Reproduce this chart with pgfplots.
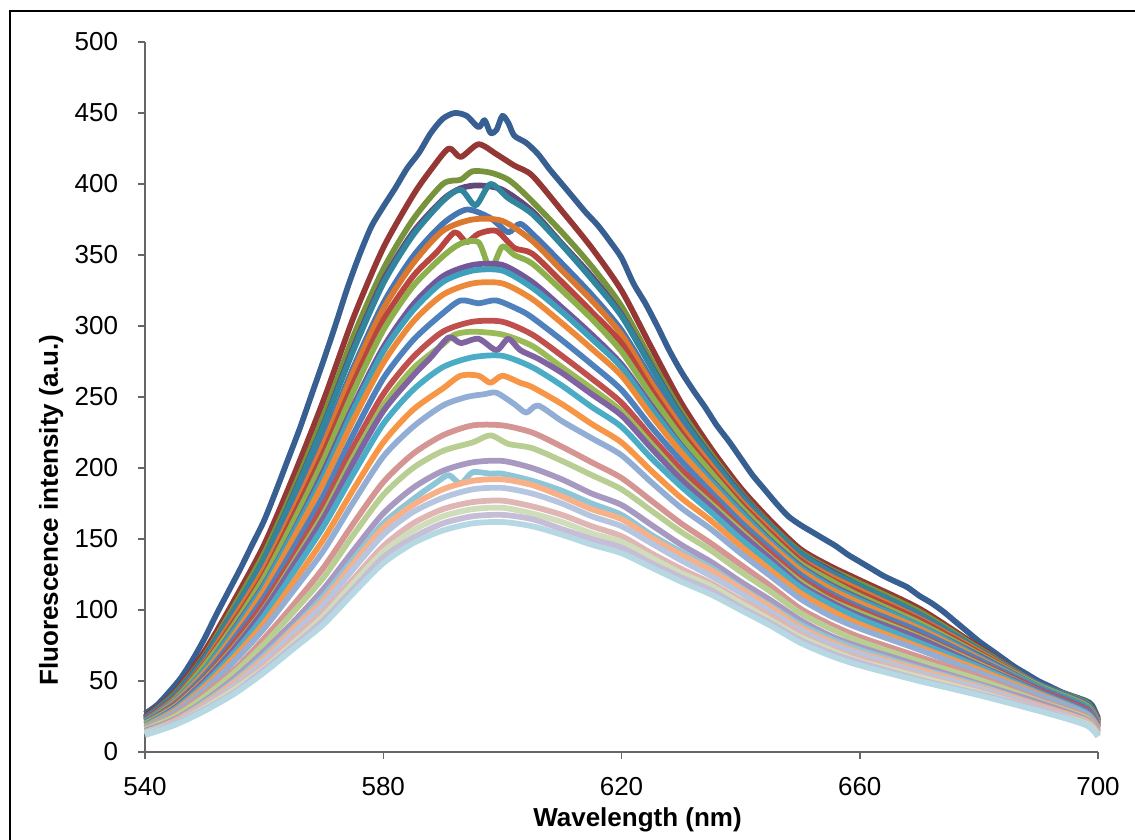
\documentclass[border=0pt]{standalone}
\usepackage{pgfplots}
\pgfplotsset{compat=1.18}
\usepackage{fontspec}
\setmainfont{Liberation Sans}
\definecolor{c1}{HTML}{375F91}
\definecolor{c2}{HTML}{953735}
\definecolor{c3}{HTML}{77933C}
\definecolor{c4}{HTML}{604A7B}
\definecolor{c5}{HTML}{31859C}
\definecolor{c6}{HTML}{4677B4}
\definecolor{c7}{HTML}{D9782E}
\definecolor{c8}{HTML}{B94541}
\definecolor{c9}{HTML}{8CB04C}
\definecolor{c10}{HTML}{72589A}
\definecolor{c11}{HTML}{3FA0BC}
\definecolor{c12}{HTML}{EC8A39}
\definecolor{c13}{HTML}{4F81BD}
\definecolor{c14}{HTML}{C0504D}
\definecolor{c15}{HTML}{9BBB59}
\definecolor{c16}{HTML}{8064A2}
\definecolor{c17}{HTML}{4BACC6}
\definecolor{c18}{HTML}{F79646}
\definecolor{c19}{HTML}{93AED4}
\definecolor{c20}{HTML}{D49593}
\definecolor{c21}{HTML}{B8CE92}
\definecolor{c22}{HTML}{A899C0}
\definecolor{c23}{HTML}{8EC6D8}
\definecolor{c24}{HTML}{F8B088}
\definecolor{c25}{HTML}{B6C6E0}
\definecolor{c26}{HTML}{E0B6B5}
\definecolor{c27}{HTML}{D0DDBA}
\definecolor{c28}{HTML}{C6BDD6}
\definecolor{c29}{HTML}{B5D8E2}
\begin{document}
\fontsize{10.4}{12.5}\selectfont
\begin{tikzpicture}
\useasboundingbox (0pt,0pt) rectangle (454pt,335.6pt);
\draw[line width=0.8pt] (3.8pt,-2pt) -- (3.8pt,331.2pt) -- (460pt,331.2pt);
\begin{axis}[
  at={(58pt,34.8pt)}, anchor=south west, scale only axis,
  width=381.2pt, height=284pt,
  xmin=540, xmax=700, ymin=0, ymax=500,
  xtick={540,580,620,660,700}, ytick={0,50,...,500},
  axis x line*=bottom, axis y line*=left,
  axis line style={black!60, line width=0.6pt, -},
  tick align=outside, major tick length=2.8pt,
  tick style={black!60, line width=0.6pt},
  xticklabel style={font=\fontsize{10.4}{12}\selectfont, anchor=north, inner sep=0pt, yshift=-7.2pt},
  yticklabel style={font=\fontsize{10.4}{12}\selectfont, anchor=east, inner sep=0pt, xshift=-7.8pt},
  /pgf/number format/assume math mode=true,
  clip=false,
  every axis plot/.append style={line width=2.3pt, line join=round, no markers, smooth, tension=0.45},
]
\addplot[c1] coordinates {(540,27)(542,33)(544,42)(546,52)(548,65)(550,80)(552,97)(554,113)(556,129)(558,146)(560,163)(562,184)(564,206)(566,228)(568,252)(570,276)(572,301)(574,327)(576,350)(578,370)(580,384)(582,397)(584,411)(586,422)(588,436)(590,446)(592,450)(594,448)(596,440)(597,445)(598,436)(599,438)(600,448)(601,443)(602,434)(604,429)(606,421)(608,410)(610,400)(612,390)(614,380)(616,371)(618,360)(620,348)(622,330)(624,316)(626,300)(628,283)(630,268)(632,255)(634,243)(636,230)(638,219)(640,207)(642,195)(644,185)(646,175)(648,166)(650,160)(652,155)(654,150)(656,145)(658,139)(660,134)(662,129)(664,124)(666,120)(668,116)(670,110)(672,105)(674,99)(676,92)(678,85)(680,78)(682,72)(684,66)(686,60)(688,55)(690,50)(692,46)(694,42)(696,39)(698,36)(699,33)(700,24)};
\addplot[c2] coordinates {(540,25)(545,42)(550,71)(555,107)(560,146)(565,195)(570,248)(575,306)(580,355)(585,392)(588,410)(591,425)(593,419)(596,428)(599,421)(602,413)(605,406)(610,381)(615,355)(620,325)(625,285)(630,246)(635,214)(640,186)(645,163)(650,143)(655,131)(660,121)(670,101)(680,74)(690,48)(698,35)(700,23)};
\addplot[c3] coordinates {(540,24)(545,41)(550,68)(555,103)(560,140)(565,186)(570,237)(575,293)(580,340)(585,375)(590,400)(593,403)(595,409)(598,408)(601,403)(604,392)(610,366)(615,342)(620,314)(625,276)(630,240)(635,210)(640,183)(645,160)(650,141)(655,129)(660,119)(670,99)(680,73)(690,48)(698,35)(700,22)};
\addplot[c4] coordinates {(540,24)(545,40)(550,67)(555,100)(560,136)(565,182)(570,231)(575,285)(580,332)(585,366)(590,389)(593,397)(596,399)(600,396)(605,381)(610,358)(615,335)(620,308)(625,272)(630,237)(635,208)(640,182)(645,159)(650,140)(655,128)(660,117)(670,97)(680,72)(690,48)(698,34)(700,22)};
\addplot[c5] coordinates {(540,24)(545,40)(550,66)(555,100)(560,136)(565,181)(570,230)(575,283)(580,330)(585,364)(590,388)(593,396)(595.5,385)(598,400)(601,390)(605,379)(610,357)(615,333)(620,307)(625,271)(630,236)(635,207)(640,181)(645,159)(650,140)(655,127)(660,117)(670,97)(680,72)(690,48)(698,34)(700,22)};
\addplot[c6] coordinates {(540,23)(545,39)(550,64)(555,96)(560,130)(565,173)(570,220)(575,271)(580,316)(585,349)(590,372)(594,382)(598,376)(601,366)(603,372)(606,361)(610,344)(615,322)(620,297)(625,263)(630,231)(635,203)(640,178)(645,156)(650,137)(655,125)(660,114)(670,95)(680,71)(690,48)(698,34)(700,22)};
\addplot[c7] coordinates {(540,23)(545,38)(550,63)(555,95)(560,129)(565,171)(570,217)(575,268)(580,312)(585,344)(590,367)(595,375)(600,374)(605,360)(610,339)(615,318)(620,294)(625,260)(630,229)(635,202)(640,177)(645,156)(650,136)(655,124)(660,114)(670,94)(680,71)(690,47)(698,33)(700,21)};
\addplot[c8] coordinates {(540,23)(545,38)(550,62)(555,92)(560,125)(565,167)(570,211)(575,260)(580,304)(585,335)(589,352)(592,366)(594,359)(596,365)(599,367)(602,355)(605,351)(610,331)(615,310)(620,288)(625,255)(630,225)(635,199)(640,175)(645,154)(650,135)(655,122)(660,112)(670,93)(680,70)(690,47)(698,33)(700,21)};
\addplot[c9] coordinates {(540,22)(545,37)(550,61)(555,90)(560,123)(565,163)(570,206)(575,254)(580,297)(585,328)(590,349)(593,358)(596,359)(598,340)(600,356)(602,350)(605,344)(610,325)(615,305)(620,282)(625,251)(630,222)(635,197)(640,173)(645,152)(650,133)(655,121)(660,110)(670,91)(680,69)(690,47)(698,33)(700,21)};
\addplot[c10] coordinates {(540,22)(545,36)(550,58)(555,87)(560,118)(565,156)(570,198)(575,244)(580,285)(585,315)(590,335)(595,343)(600,343)(605,331)(610,313)(615,294)(620,273)(625,244)(630,216)(635,192)(640,170)(645,149)(650,131)(655,118)(660,108)(670,89)(680,68)(690,46)(698,32)(700,20)};
\addplot[c11] coordinates {(540,22)(545,36)(550,58)(555,86)(560,117)(565,155)(570,195)(575,241)(580,282)(585,311)(590,331)(595,339)(600,339)(605,327)(610,310)(615,291)(620,271)(625,242)(630,215)(635,191)(640,169)(645,148)(650,130)(655,117)(660,107)(670,89)(680,67)(690,46)(698,32)(700,20)};
\addplot[c12] coordinates {(540,21)(545,35)(550,56)(555,83)(560,114)(565,151)(570,190)(575,234)(580,274)(585,303)(590,322)(595,330)(600,330)(605,319)(610,302)(615,284)(620,265)(625,237)(630,211)(635,188)(640,166)(645,146)(650,128)(655,115)(660,105)(670,87)(680,66)(690,45)(698,31)(700,20)};
\addplot[c13] coordinates {(540,21)(545,34)(550,54)(555,80)(560,109)(565,144)(570,181)(575,224)(580,263)(585,290)(590,309)(593,318)(596,316)(599,318)(603,311)(605,306)(610,290)(615,273)(620,255)(625,229)(630,205)(635,183)(640,162)(645,143)(650,125)(655,112)(660,102)(670,85)(680,65)(690,45)(698,31)(700,19)};
\addplot[c14] coordinates {(540,20)(545,33)(550,52)(555,77)(560,105)(565,138)(570,174)(575,215)(580,252)(585,278)(590,296)(595,303)(600,303)(605,294)(610,279)(615,263)(620,246)(625,222)(630,199)(635,179)(640,158)(645,140)(650,122)(655,110)(660,100)(670,82)(680,63)(690,44)(698,30)(700,18)};
\addplot[c15] coordinates {(540,20)(545,32)(550,51)(555,74)(560,101)(565,134)(570,168)(575,208)(580,244)(585,270)(590,287)(592,294)(595,296)(600,294)(605,286)(610,271)(615,256)(620,240)(625,217)(630,194)(635,175)(640,156)(645,137)(650,120)(655,107)(660,98)(670,81)(680,62)(690,43)(698,29)(700,18)};
\addplot[c16] coordinates {(540,19)(545,31)(550,50)(555,73)(560,100)(565,132)(570,165)(575,204)(580,240)(585,265)(588,278)(591,292)(593,288)(596,291)(599,283)(601,291)(603,283)(606,277)(610,267)(615,252)(620,237)(625,214)(630,192)(635,173)(640,154)(645,136)(650,118)(655,106)(660,96)(670,80)(680,61)(690,43)(698,29)(700,18)};
\addplot[c17] coordinates {(540,19)(545,30)(550,48)(555,70)(560,96)(565,127)(570,159)(575,196)(580,231)(585,255)(590,271)(595,278)(600,279)(605,271)(610,258)(615,243)(620,229)(625,207)(630,187)(635,169)(640,150)(645,133)(650,116)(655,104)(660,94)(670,77)(680,60)(690,42)(698,28)(700,17)};
\addplot[c18] coordinates {(540,18)(545,29)(550,46)(555,67)(560,91)(565,120)(570,150)(575,185)(580,218)(585,241)(590,256)(593,265)(596,265)(598,260)(600,265)(603,260)(605,257)(610,245)(615,231)(620,218)(625,198)(630,179)(635,163)(640,145)(645,128)(650,112)(655,100)(660,90)(670,74)(680,58)(690,41)(698,27)(700,17)};
\addplot[c19] coordinates {(540,17)(545,28)(550,44)(555,64)(560,87)(565,114)(570,142)(575,176)(580,208)(585,229)(590,244)(594,250)(597,252)(599,253)(602,245)(604,239)(606,244)(610,233)(615,221)(620,209)(625,190)(630,172)(635,157)(640,140)(645,124)(650,108)(655,96)(660,87)(670,72)(680,56)(690,40)(698,27)(700,16)};
\addplot[c20] coordinates {(540,16)(545,26)(550,41)(555,58)(560,80)(565,104)(570,130)(575,161)(580,190)(585,210)(590,223)(595,230)(600,230)(605,225)(610,215)(615,204)(620,193)(625,177)(630,161)(635,147)(640,132)(645,117)(650,101)(655,90)(660,81)(670,67)(680,53)(690,37)(698,25)(700,15)};
\addplot[c21] coordinates {(540,16)(545,25)(550,39)(555,56)(560,76)(565,99)(570,123)(575,153)(580,181)(585,200)(590,212)(595,218)(598,223)(601,217)(605,214)(610,205)(615,195)(620,185)(625,170)(630,155)(635,142)(640,127)(645,113)(650,98)(655,87)(660,78)(670,64)(680,51)(690,36)(698,24)(700,14)};
\addplot[c22] coordinates {(540,15)(545,23)(550,36)(555,52)(560,71)(565,92)(570,115)(575,142)(580,168)(585,186)(590,198)(595,204)(600,205)(605,200)(610,192)(615,182)(620,174)(625,160)(630,146)(635,134)(640,120)(645,107)(650,93)(655,82)(660,74)(670,61)(680,48)(690,35)(698,23)(700,14)};
\addplot[c23] coordinates {(540,14)(545,22)(550,35)(555,50)(560,68)(565,88)(570,110)(575,136)(580,161)(585,178)(589,190)(591,195)(593,189)(595,197)(598,196)(600,196)(605,191)(610,184)(615,175)(620,167)(625,153)(630,141)(635,130)(640,116)(645,103)(650,90)(655,80)(660,72)(670,59)(680,47)(690,33)(698,22)(700,13)};
\addplot[c24] coordinates {(540,14)(545,22)(550,34)(555,49)(560,66)(565,87)(570,107)(575,133)(580,158)(585,174)(590,185)(595,191)(600,192)(605,188)(610,180)(615,171)(620,164)(625,151)(630,139)(635,128)(640,115)(645,102)(650,88)(655,78)(660,70)(670,58)(680,46)(690,33)(698,22)(700,13)};
\addplot[c25] coordinates {(540,14)(545,21)(550,33)(555,47)(560,64)(565,84)(570,104)(575,129)(580,153)(585,169)(590,179)(595,185)(600,186)(605,182)(610,175)(615,166)(620,159)(625,147)(630,135)(635,124)(640,112)(645,99)(650,86)(655,76)(660,69)(670,56)(680,45)(690,32)(698,21)(700,12)};
\addplot[c26] coordinates {(540,13)(545,20)(550,32)(555,45)(560,61)(565,80)(570,99)(575,122)(580,145)(585,161)(590,171)(595,176)(600,177)(605,173)(610,167)(615,159)(620,152)(625,140)(630,129)(635,119)(640,107)(645,96)(650,83)(655,73)(660,66)(670,54)(680,43)(690,31)(698,20)(700,12)};
\addplot[c27] coordinates {(540,13)(545,20)(550,31)(555,44)(560,59)(565,77)(570,96)(575,119)(580,141)(585,156)(590,166)(595,171)(600,172)(605,168)(610,162)(615,154)(620,148)(625,137)(630,126)(635,117)(640,105)(645,93)(650,81)(655,72)(660,64)(670,53)(680,42)(690,30)(698,20)(700,12)};
\addplot[c28] coordinates {(540,12)(545,20)(550,30)(555,42)(560,58)(565,75)(570,93)(575,115)(580,137)(585,151)(590,161)(595,166)(600,167)(605,164)(610,157)(615,150)(620,144)(625,133)(630,123)(635,114)(640,102)(645,91)(650,79)(655,70)(660,63)(670,51)(680,41)(690,30)(698,19)(700,11)};
\addplot[c29] coordinates {(540,12)(545,19)(550,29)(555,41)(560,56)(565,73)(570,90)(575,112)(580,133)(585,147)(590,156)(595,161)(600,162)(605,159)(610,153)(615,146)(620,140)(625,130)(630,120)(635,111)(640,100)(645,89)(650,77)(655,68)(660,61)(670,50)(680,40)(690,29)(698,19)(700,11)};
\end{axis}
\node[rotate=90, anchor=base, font=\bfseries\fontsize{10.4}{12}\selectfont] at (23.2pt,131.6pt) {Fluorescence intensity (a.u.)};
\node[anchor=base, font=\bfseries\fontsize{10.4}{12}\selectfont] at (255pt,5.2pt) {Wavelength (nm)};
\end{tikzpicture}
\end{document}
